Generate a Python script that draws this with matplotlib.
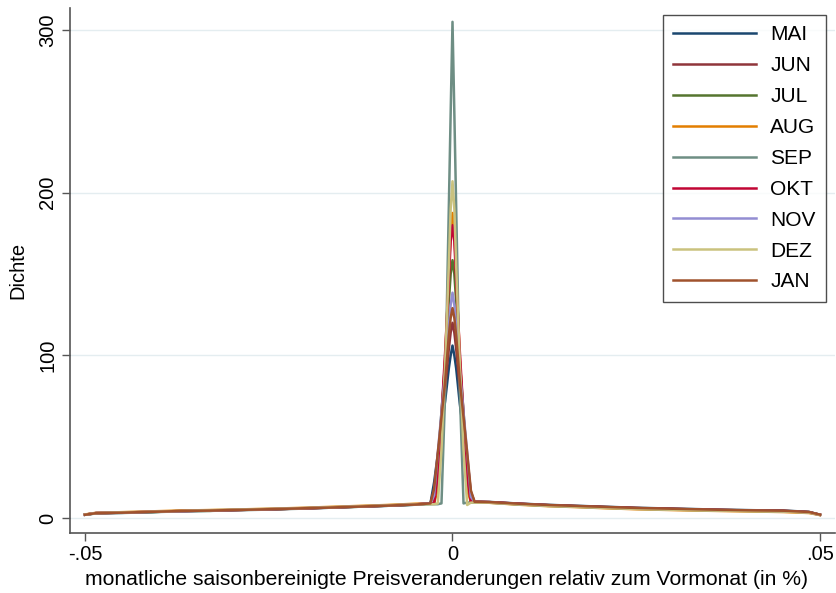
import matplotlib
matplotlib.use("Agg")
import matplotlib.pyplot as plt
import numpy as np

plt.rcParams['font.family'] = ['Liberation Sans', 'DejaVu Sans']

months = ["MAI", "JUN", "JUL", "AUG", "SEP", "OKT", "NOV", "DEZ", "JAN"]
colors = ["#1a476f", "#90353b", "#55752f", "#e37e00", "#6e8e84",
          "#c10534", "#938dd2", "#cac27e", "#a0522d"]

# x positions
left_tail_x = [-0.05, -0.0485, -0.045, -0.041, -0.037, -0.033, -0.029,
               -0.025, -0.021, -0.017, -0.013, -0.009, -0.005]
spike_x = [-0.003, -0.0025, -0.002, -0.0015, -0.001, -0.0005, -0.00025, 0.0,
           0.00025, 0.0005, 0.001, 0.0015, 0.002, 0.0025, 0.003]
right_tail_x = [0.005, 0.009, 0.013, 0.017, 0.021, 0.025, 0.029, 0.033,
                0.037, 0.041, 0.045, 0.0485, 0.05]

# density values, left tail
left_tail = {
    "MAI": [2.0, 3.0, 3.2, 3.7, 4.2, 4.5, 5.0, 5.3, 5.9, 6.3, 7.0, 7.5, 8.2],
    "JUN": [2.0, 3.1, 3.3, 3.8, 4.3, 4.7, 4.9, 5.5, 5.8, 6.5, 7.1, 7.7, 8.4],
    "JUL": [2.1, 2.9, 3.4, 3.6, 4.4, 4.4, 5.1, 5.2, 5.9, 6.4, 6.9, 7.6, 8.3],
    "AUG": [2.2, 3.2, 3.6, 4.1, 4.6, 4.9, 5.3, 5.7, 6.2, 6.8, 7.4, 8.0, 8.8],
    "SEP": [2.0, 2.8, 3.1, 3.6, 4.1, 4.4, 4.8, 5.2, 5.7, 6.3, 6.9, 7.5, 8.2],
    "OKT": [2.1, 3.0, 3.3, 3.9, 4.3, 4.6, 5.0, 5.4, 5.8, 6.4, 7.0, 7.6, 8.4],
    "NOV": [2.0, 3.1, 3.4, 3.8, 4.2, 4.7, 5.1, 5.5, 6.0, 6.5, 7.1, 7.7, 8.4],
    "DEZ": [2.1, 3.0, 3.5, 3.9, 4.4, 4.8, 5.2, 5.6, 6.0, 6.6, 7.2, 7.8, 8.5],
    "JAN": [2.0, 3.0, 3.3, 3.8, 4.3, 4.6, 5.0, 5.4, 5.9, 6.4, 7.0, 7.6, 8.3],
}

# density values around zero
spike = {
    "MAI": [9.0, 22.0, 39.0, 56.0, 72.0, 92.0, 100.0, 106.0, 100.0, 92.0, 70.0, 52.0, 33.0, 14.0, 10.0],
    "JUN": [9.0, 17.0, 38.0, 58.0, 79.0, 104.0, 114.0, 120.0, 114.0, 104.0, 79.0, 58.0, 37.0, 16.0, 10.0],
    "JAN": [9.0, 18.0, 40.0, 62.0, 84.0, 112.0, 123.0, 129.0, 123.0, 112.0, 84.0, 62.0, 40.0, 17.0, 10.0],
    "NOV": [9.0, 14.0, 40.0, 65.0, 90.0, 118.0, 131.0, 138.5, 131.0, 118.0, 90.0, 65.0, 40.0, 13.0, 10.0],
    "JUL": [9.0, 9.0, 34.0, 65.0, 96.0, 133.0, 150.0, 158.5, 150.0, 133.0, 96.0, 65.0, 33.0, 10.0, 10.0],
    "OKT": [9.0, 9.0, 25.0, 63.0, 102.0, 146.0, 170.0, 180.0, 170.0, 146.0, 102.0, 63.0, 24.0, 10.0, 10.0],
    "AUG": [9.0, 9.0, 18.0, 58.0, 99.0, 150.0, 176.0, 187.5, 176.0, 150.0, 99.0, 58.0, 17.0, 10.0, 10.0],
    "DEZ": [8.5, 8.5, 9.0, 42.0, 95.0, 155.0, 190.0, 207.0, 190.0, 155.0, 95.0, 42.0, 8.0, 9.5, 9.5],
    "SEP": [8.5, 8.5, 8.5, 9.0, 77.0, 191.0, 249.0, 305.0, 249.0, 191.0, 77.0, 9.0, 9.5, 9.5, 9.5],
}

# density values, right tail
right_tail = {
    "MAI": [9.9, 8.9, 8.1, 7.5, 6.9, 6.3, 5.9, 5.5, 5.1, 4.8, 4.6, 3.8, 2.0],
    "JUN": [9.7, 8.7, 7.9, 7.2, 6.6, 6.1, 5.6, 5.3, 4.9, 4.6, 4.3, 3.6, 2.0],
    "JUL": [9.6, 8.5, 7.7, 7.1, 6.5, 5.9, 5.5, 5.1, 4.7, 4.5, 4.2, 3.5, 1.9],
    "AUG": [9.4, 8.2, 7.3, 6.7, 6.0, 5.4, 5.0, 4.6, 4.3, 4.0, 3.7, 3.1, 1.8],
    "SEP": [9.5, 8.4, 7.5, 6.9, 6.3, 5.7, 5.3, 4.9, 4.6, 4.3, 4.1, 3.5, 2.0],
    "OKT": [9.8, 8.8, 7.9, 7.3, 6.7, 6.1, 5.7, 5.3, 4.9, 4.6, 4.4, 3.6, 2.0],
    "NOV": [9.6, 8.6, 7.8, 7.1, 6.5, 5.9, 5.5, 5.1, 4.8, 4.5, 4.2, 3.5, 1.9],
    "DEZ": [9.4, 8.4, 7.5, 6.9, 6.2, 5.6, 5.2, 4.8, 4.5, 4.2, 4.0, 3.3, 1.9],
    "JAN": [9.8, 8.8, 8.0, 7.4, 6.8, 6.2, 5.8, 5.4, 5.0, 4.7, 4.5, 3.7, 2.1],
}

xticks = [-0.05, 0.0, 0.05]
xtick_labels = ["-.05", "0", ".05"]
yticks = [0, 100, 200, 300]
ytick_labels = ["0", "100", "200", "300"]

fig = plt.figure(figsize=(8.37, 5.93), dpi=100)
ax = fig.add_axes([70 / 837, 60 / 593, 765 / 837, 525 / 593])

for yv in yticks:
    ax.axhline(yv, color="#e4edf0", lw=1.0, zorder=0)

handles = []
for m, c in zip(months, colors):
    xs = left_tail_x + spike_x + right_tail_x
    ys = left_tail[m] + spike[m] + right_tail[m]
    h, = ax.plot(xs, ys, color=c, lw=1.8, label=m, solid_joinstyle="round")
    handles.append(h)

ax.set_xlim(-0.05204, 0.05204)
ax.set_ylim(-9.2, 313.5)
ax.set_xticks(xticks)
ax.set_xticklabels(xtick_labels)
ax.set_yticks(yticks)
ax.set_yticklabels(ytick_labels, rotation=90, va="center")
ax.tick_params(axis="both", direction="out", length=6, width=1.0,
               color="#555555", labelsize=14.5, pad=3)
for s in ["top", "right"]:
    ax.spines[s].set_visible(False)
for s in ["left", "bottom"]:
    ax.spines[s].set_color("#555555")
    ax.spines[s].set_linewidth(1.2)

ax.set_xlabel("monatliche saisonbereinigte Preisveranderungen relativ zum Vormonat (in %)",
              fontsize=15.2, labelpad=1)
ax.xaxis.set_label_coords((446.5 - 70) / 765, -0.07)
ax.set_ylabel("Dichte", fontsize=14.5, labelpad=8)

leg = fig.legend(handles=handles, loc="upper right",
                 bbox_to_anchor=(826 / 837, 1 - 15 / 593),
                 bbox_transform=fig.transFigure,
                 fontsize=15, frameon=True, fancybox=False,
                 handlelength=3.95, handletextpad=0.7, labelspacing=0.57,
                 borderpad=0.5, borderaxespad=0)
leg.get_frame().set_edgecolor("#222222")
leg.get_frame().set_linewidth(1.0)
for line in leg.get_lines():
    line.set_linewidth(1.8)

fig.savefig("out.png", dpi=100, facecolor="white")
